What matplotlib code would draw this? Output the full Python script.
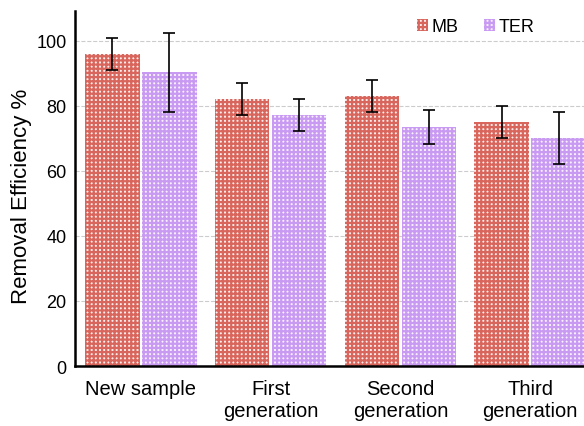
import matplotlib.pyplot as plt
import numpy as np

plt.rcParams['font.family'] = ['Liberation Sans', 'DejaVu Sans']
plt.rcParams['hatch.linewidth'] = 1.6

categories = ['New sample', 'First\ngeneration', 'Second\ngeneration', 'Third\ngeneration']
mb = [96, 82, 83, 75]
mb_err = [4.9, 5, 5, 5]
ter = [90.3, 77.2, 73.5, 70]
ter_err = [12.2, 5, 5.2, 8]

x = np.arange(len(categories))
w = 0.42

fig = plt.figure(figsize=(5.84, 4.27), dpi=100)
ax = fig.add_axes([0.128, 0.1405, 0.893, 0.832])

ax.grid(axis='y', color='#cccccc', linestyle='--', linewidth=0.8)
ax.set_axisbelow(True)

b1 = ax.bar(x - w/2 - 0.01, mb, w, color='#fbeeee', edgecolor='#d9665c',
            hatch='+'*4, linewidth=0, label='MB')
b2 = ax.bar(x + w/2 + 0.01, ter, w, color='#f8f1fd', edgecolor='#c99af2',
            hatch='+'*4, linewidth=0, label='TER')
ax.errorbar(x - w/2 - 0.01, mb, yerr=mb_err, fmt='none', ecolor='black',
            elinewidth=1.2, capsize=4, capthick=1.2)
ax.errorbar(x + w/2 + 0.01, ter, yerr=ter_err, fmt='none', ecolor='black',
            elinewidth=1.2, capsize=4, capthick=1.2)

ax.set_xlim(-0.51, 3.51)
ax.set_ylim(0, 109.2)
ax.set_yticks([0, 20, 40, 60, 80, 100])
ax.set_xticks(x)
ax.set_xticklabels(categories, linespacing=1.25)
ax.tick_params(axis='both', length=0)
ax.tick_params(axis='y', labelsize=13, pad=6)
ax.tick_params(axis='x', labelsize=14.5, pad=9)
ax.set_ylabel('Removal Efficiency %', fontsize=16)
ax.yaxis.set_label_coords(-0.082, 0.48)

for s in ['top', 'right']:
    ax.spines[s].set_visible(False)
ax.spines['left'].set_linewidth(1.8)
ax.spines['bottom'].set_linewidth(1.8)

fig.legend(handles=[b1, b2], loc='center', bbox_to_anchor=(0.815, 0.935),
           ncol=2, frameon=False, fontsize=13, handlelength=0.6,
           handleheight=0.6, handletextpad=0.2, columnspacing=1.4)

fig.savefig('out.png', dpi=100)
